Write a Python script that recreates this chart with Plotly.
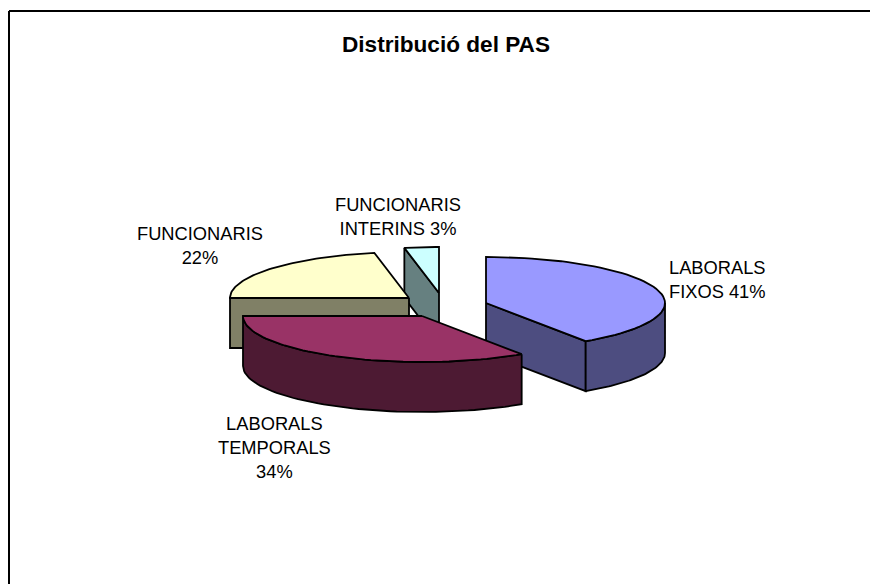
import numpy as np
import plotly.graph_objects as go

title = "Distribució del PAS"
categories = ["LABORALS FIXOS", "LABORALS TEMPORALS", "FUNCIONARIS", "FUNCIONARIS INTERINS"]
values = [40.6, 34.4, 21.9, 3.1]
label_lines = ["LABORALS<br>FIXOS ", "LABORALS<br>TEMPORALS<br>", "FUNCIONARIS<br>", "FUNCIONARIS<br>INTERINS "]

top_colors = ["#9999FF", "#993366", "#FFFFCC", "#CCFFFF"]
side_colors = ["#4D4D80", "#4D1A33", "#808066", "#668080"]

# pie projection, in pixels of the 870x584 page
RX, RY, DEPTH = 179, 46, 50
# exploded apex of each slice
apex = [(486, 303), (422, 316), (409, 298), (439, 293)]
label_pos = [(717, 279), (274, 447), (200, 245), (398, 216)]

share = np.array(values) / sum(values) * 360
ends = np.cumsum(share)
starts = ends - share


def rim(c, deg):
    t = np.radians(deg)
    return c[0] + RX * np.sin(t), c[1] - RY * np.cos(t)


def arc(c, a, b):
    return rim(c, np.linspace(a, b, 60))


def poly(xs, ys, color, name):
    return go.Scatter(
        x=list(xs) + [xs[0]], y=list(ys) + [ys[0]], mode="lines", fill="toself",
        fillcolor=color, line=dict(color="black", width=1.8), name=name,
        hoverinfo="name", showlegend=False,
    )


def radial_face(c, deg, color, name):
    rx, ry = rim(c, deg)
    return poly([c[0], rx, rx, c[0]], [c[1], ry, ry + DEPTH, c[1] + DEPTH], color, name)


def outer_face(c, a, b, color, name):
    ax, ay = arc(c, a, b)
    return poly(list(ax) + list(ax[::-1]), list(ay) + list(ay[::-1] + DEPTH), color, name)


def top_face(c, a, b, color, name):
    ax, ay = arc(c, a, b)
    return poly([c[0]] + list(ax), [c[1]] + list(ay), color, name)


fig = go.Figure()

# painter's order: back slices first
i = 3
fig.add_trace(radial_face(apex[i], starts[i], side_colors[i], categories[i]))
fig.add_trace(top_face(apex[i], starts[i], ends[i], top_colors[i], categories[i]))

i = 2
fig.add_trace(radial_face(apex[i], starts[i], side_colors[i], categories[i]))
fig.add_trace(top_face(apex[i], starts[i], ends[i], top_colors[i], categories[i]))

i = 0
fig.add_trace(radial_face(apex[i], ends[i], side_colors[i], categories[i]))
fig.add_trace(outer_face(apex[i], 90, ends[i], side_colors[i], categories[i]))
fig.add_trace(top_face(apex[i], starts[i], ends[i], top_colors[i], categories[i]))

i = 1
fig.add_trace(outer_face(apex[i], starts[i], ends[i], side_colors[i], categories[i]))
fig.add_trace(top_face(apex[i], starts[i], ends[i], top_colors[i], categories[i]))

for lines, v, (lx, ly) in zip(label_lines, values, label_pos):
    fig.add_annotation(x=lx, y=ly, xref="x", yref="y", text=f"{lines}{round(v)}%",
                       showarrow=False, align="center",
                       font=dict(family="Liberation Sans", size=18.3, color="#000000"))

fig.add_annotation(x=446, y=44, xref="x", yref="y", text=f"<b>{title}</b>", showarrow=False,
                   font=dict(family="Liberation Sans", size=22.6, color="#000000"))

# chart frame: only the top and left edges fall inside the picture
for x0, y0, x1, y1 in [(9, 11, 870, 11), (9, 11, 9, 584)]:
    fig.add_shape(type="line", x0=x0, y0=y0, x1=x1, y1=y1, xref="x", yref="y",
                  line=dict(color="black", width=2))

fig.update_layout(
    width=870, height=584, margin=dict(l=0, r=0, t=0, b=0),
    paper_bgcolor="white", plot_bgcolor="white", showlegend=False,
    xaxis=dict(range=[0, 870], visible=False, fixedrange=True),
    yaxis=dict(range=[584, 0], visible=False, fixedrange=True),
)
fig.write_html("out.html", config=dict(displayModeBar=False),
               post_script="document.body.style.margin='0';document.body.style.overflow='hidden';")
